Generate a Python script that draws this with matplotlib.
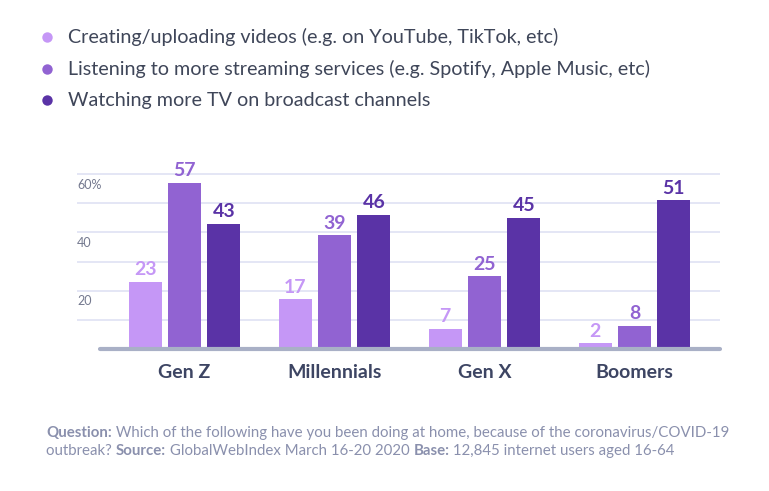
import numpy as np
import matplotlib
matplotlib.use('Agg')
import matplotlib.pyplot as plt

plt.rcParams['font.family'] = ['Lato', 'DejaVu Sans']

categories = ['Gen Z', 'Millennials', 'Gen X', 'Boomers']
series_names = [
    'Creating/uploading videos (e.g. on YouTube, TikTok, etc)',
    'Listening to more streaming services (e.g. Spotify, Apple Music, etc)',
    'Watching more TV on broadcast channels',
]
creating = [23, 17, 7, 2]
streaming = [57, 39, 25, 8]
tv = [43, 46, 45, 51]
grid_values = [10, 20, 30, 40, 50, 60]
tick_values = [20, 40, 60]
tick_labels = ['20', '40', '60%']

colors = ['#c597f6', '#9163d2', '#5a33a6']
text_col = '#3d4563'
foot_col = '#8a90ad'

W, H = 769, 491
fig = plt.figure(figsize=(W / 100, H / 100), dpi=100)

# axes placed in pixel terms
x0, x1 = 77, 720
y_base, px_per_unit = 349, 2.915
ymax = 62
ax = fig.add_axes([x0 / W, (H - y_base) / H, (x1 - x0) / W, ymax * px_per_unit / H])
ax.set_xlim((x0 - 184.5) / 150, (x1 - 184.5) / 150)
ax.set_ylim(0, ymax)
ax.axis('off')

for g in grid_values:
    ax.axhline(g, color='#dfe2f3', lw=1.2, zorder=0)
for v, lab in zip(tick_values, tick_labels):
    ax.text(ax.get_xlim()[0], v - 3.7, lab, fontsize=9, color='#74798f',
            va='center', ha='left')

xs = np.arange(len(categories))
bw, off = 0.222, 0.262
for i, vals in enumerate([creating, streaming, tv]):
    pos = xs + (i - 1) * off
    ax.bar(pos, vals, width=bw, color=colors[i], zorder=2)
    for p, v in zip(pos, vals):
        ax.annotate(str(v), (p, v), xytext=(0, 2.5), textcoords='offset points',
                    ha='center', va='bottom', fontsize=14, fontweight='bold',
                    color=colors[i])

# baseline
ax.plot([(100 - 184.5) / 150, ax.get_xlim()[1]], [0, 0], color='#a9b0c6',
        lw=3, solid_capstyle='round', zorder=3, clip_on=False)

for x, c in zip(xs, categories):
    ax.text(x, -8, c, ha='center', va='center', fontsize=14,
            fontweight='bold', color=text_col)

# legend
leg_ax = fig.add_axes([0, 0, 1, 1], zorder=-1)
leg_ax.set_xlim(0, W)
leg_ax.set_ylim(H, 0)
leg_ax.axis('off')
for i, name in enumerate(series_names):
    yy = [37, 69, 100][i]
    leg_ax.plot(47, yy, 'o', ms=7.5, color=colors[i], mec='none')
    leg_ax.text(68, yy, name, color='#3f4659', fontsize=14.2,
                ha='left', va='center')

# footer with bold segments
def seq_text(parts, y):
    last = None
    for txt, bold in parts:
        kw = dict(fontsize=10.8, color=foot_col,
                  fontweight='bold' if bold else 'normal', va='bottom', ha='left')
        if last is None:
            last = leg_ax.text(46, y, txt, **kw)
        else:
            last = leg_ax.annotate(txt, xy=(1, 0), xycoords=last,
                                   annotation_clip=False, **kw)

seq_text([('Question:', True),
          (' Which of the following have you been doing at home, because of the coronavirus/COVID-19', False)],
         440)
seq_text([('outbreak? ', False), ('Source:', True),
          (' GlobalWebIndex March 16-20 2020 ', False), ('Base:', True),
          (' 12,845 internet users aged 16-64', False)],
         458)

fig.savefig('out.png', dpi=100)
